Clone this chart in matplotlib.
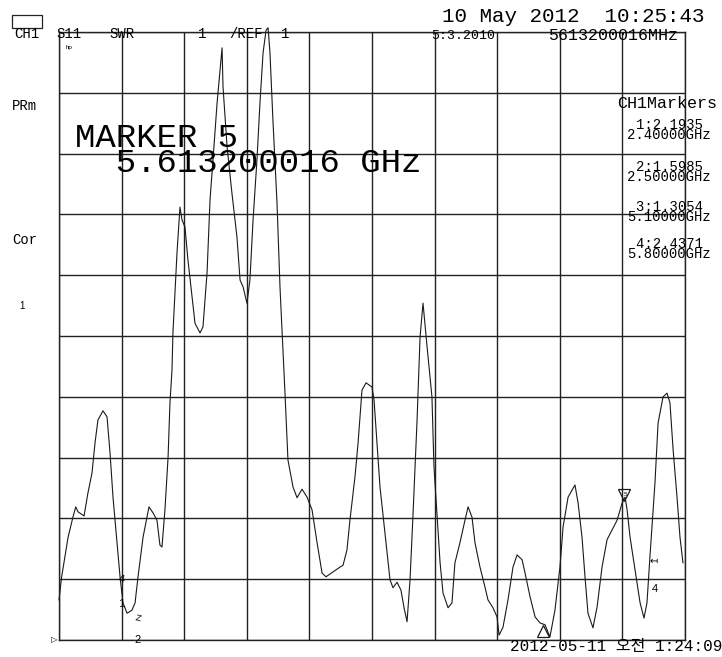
import matplotlib
matplotlib.use("Agg")
import matplotlib.pyplot as plt

# S11 SWR trace (frequency in GHz, SWR)
freq_ghz = [2.000, 2.017, 2.058, 2.089, 2.107, 2.121, 2.160, 2.185, 2.211, 2.230,
            2.249, 2.281, 2.307, 2.326, 2.345, 2.371, 2.390, 2.409, 2.435, 2.466,
            2.486, 2.505, 2.537, 2.575, 2.601, 2.626, 2.645, 2.658, 2.677, 2.697,
            2.709, 2.722, 2.728, 2.754, 2.773, 2.786, 2.805, 2.824, 2.850, 2.869,
            2.901, 2.920, 2.946, 2.965, 2.984, 3.010, 3.029, 3.042, 3.048, 3.074,
            3.105, 3.137, 3.157, 3.176, 3.201, 3.220, 3.240, 3.265, 3.284, 3.304,
            3.323, 3.336, 3.348, 3.367, 3.393, 3.412, 3.431, 3.444, 3.463, 3.495,
            3.521, 3.553, 3.585, 3.617, 3.649, 3.681, 3.706, 3.751, 3.796, 3.815,
            3.840, 3.859, 3.891, 3.911, 3.936, 3.962, 4.000, 4.013, 4.032, 4.051,
            4.083, 4.115, 4.134, 4.160, 4.185, 4.204, 4.224, 4.243, 4.262, 4.288,
            4.307, 4.326, 4.352, 4.383, 4.396, 4.415, 4.435, 4.454, 4.486, 4.511,
            4.530, 4.562, 4.594, 4.614, 4.639, 4.658, 4.690, 4.722, 4.741, 4.773,
            4.799, 4.812, 4.837, 4.869, 4.901, 4.927, 4.959, 4.978, 5.010, 5.042,
            5.074, 5.106, 5.137, 5.169, 5.201, 5.221, 5.253, 5.297, 5.317, 5.342,
            5.361, 5.380, 5.412, 5.438, 5.470, 5.502, 5.534, 5.566, 5.598, 5.617,
            5.630, 5.649, 5.681, 5.713, 5.738, 5.757, 5.776, 5.808, 5.828, 5.860,
            5.885, 5.904, 5.924, 5.949, 5.968, 5.987]
swr = [1.66, 2.04, 2.69, 3.02, 3.19, 3.11, 3.04, 3.42, 3.75, 4.24,
       4.62, 4.77, 4.67, 4.08, 3.35, 2.60, 2.04, 1.61, 1.44, 1.49,
       1.61, 2.04, 2.69, 3.19, 3.09, 2.97, 2.56, 2.53, 3.14, 4.01,
       4.90, 5.44, 6.05, 7.37, 8.12, 7.91, 7.79, 7.25, 6.64, 6.21,
       6.05, 6.15, 7.04, 8.24, 8.90, 9.83, 10.38, 10.74, 10.10, 9.11,
       8.35, 7.63, 6.92, 6.81, 6.54, 6.92, 7.91, 8.90, 9.83, 10.66,
       11.03, 11.07, 10.66, 9.55, 8.19, 6.81, 5.77, 5.06, 3.96, 3.52,
       3.34, 3.48, 3.35, 3.14, 2.60, 2.10, 2.04, 2.12, 2.20, 2.23,
       2.48, 2.97, 3.68, 4.24, 5.11, 5.23, 5.16, 4.95, 4.24, 3.52,
       2.76, 1.99, 1.86, 1.95, 1.82, 1.54, 1.30, 1.99, 3.06, 4.62,
       5.98, 6.54, 5.82, 5.00, 3.85, 3.09, 2.27, 1.77, 1.53, 1.61,
       2.27, 2.60, 2.97, 3.19, 3.02, 2.60, 2.20, 1.87, 1.66, 1.53,
       1.38, 1.08, 1.21, 1.66, 2.20, 2.40, 2.32, 2.10, 1.71, 1.38,
       1.28, 1.25, 1.05, 1.49, 2.20, 2.86, 3.35, 3.55, 3.25, 2.69,
       2.04, 1.44, 1.20, 1.54, 2.20, 2.65, 2.81, 2.97, 3.25, 3.35,
       3.14, 2.69, 2.15, 1.61, 1.36, 1.61, 2.37, 3.58, 4.57, 5.00,
       5.06, 4.90, 4.13, 3.35, 2.69, 2.27]

start_ghz, stop_ghz = 2.0, 6.0
ref_swr, swr_per_div = 1.0, 1.0

marker_values = ["1:2.1935", "2:1.5985", "3:1.3054", "4:2.4371"]
marker_freqs = ["2.40000GHz", "2.50000GHz", "5.10000GHz", "5.80000GHz"]
# triangle glyphs of markers 3 and 5 as they sit on the screen
tri_freq = [5.093, 5.613]
tri_swr = [1.14, 3.38]
tri_shape = ["^", "v"]

W, H = 722, 657
fig = plt.figure(figsize=(W / 100, H / 100), dpi=100)
fig.patch.set_facecolor("white")


def P(x, y):
    # pixel position on the screen -> figure fraction
    return x / W, 1 - y / H


ax = fig.add_axes([59 / W, 17 / H, 626 / W, 608 / H])
ax.set_xlim(start_ghz, stop_ghz)
ax.set_ylim(ref_swr, ref_swr + 10 * swr_per_div)
ax.set_xticks([start_ghz + i * (stop_ghz - start_ghz) / 10 for i in range(11)])
ax.set_yticks([ref_swr + i * swr_per_div for i in range(11)])
ax.tick_params(length=0, labelbottom=False, labelleft=False)
ax.grid(True, color="#222222", linewidth=1.0)
for s in ax.spines.values():
    s.set_color("#222222")
    s.set_linewidth(1.0)
ax.plot(freq_ghz, swr, color="#1a1a1a", linewidth=0.8, clip_on=False)
for f, s, m in zip(tri_freq, tri_swr, tri_shape):
    ax.plot([f], [s], marker=m, markersize=8, markerfacecolor="none",
            markeredgecolor="#1a1a1a", markeredgewidth=0.9, linestyle="none", clip_on=False)

mono = "Liberation Mono"
sans = "Liberation Sans"

# header
fig.patches.append(plt.Rectangle(P(12, 28), 30 / W, 13 / H, transform=fig.transFigure,
                                 fill=False, edgecolor="#222222", linewidth=0.9))
for txt, x in [("CH1", 14), ("S11", 56), ("SWR", 109), ("1", 198), ("/REF", 229), ("1", 281)]:
    fig.text(*P(x, 34), txt, family=mono, fontsize=10, va="center", ha="left")
fig.text(*P(66, 48), "hp", family=sans, fontsize=4.5, va="center", ha="left")
fig.text(*P(442, 17), "10 May 2012  10:25:43", family=mono, fontsize=15, va="center", ha="left")
fig.text(*P(431, 36), "5:3.2010", family=mono, fontsize=9.5, va="center", ha="left")
fig.text(*P(548, 36), "5613200016MHz", family=mono, fontsize=12, va="center", ha="left")

# left labels
fig.text(*P(12, 106), "PRm", family=mono, fontsize=10, va="center", ha="left")
fig.text(*P(12, 240), "Cor", family=mono, fontsize=10, va="center", ha="left")
fig.text(*P(22, 306), "1", family=sans, fontsize=7, va="center", ha="center")

# big marker readout, both lines as one block
fig.text(*P(75, 151), "MARKER 5\n  5.613200016 GHz", family=mono, fontsize=24.5,
         va="center", ha="left", linespacing=0.72)

# marker table: value line and frequency line of each marker as one block
fig.text(*P(717, 103), "CH1Markers", family=mono, fontsize=12, va="center", ha="right")
rows_y = [130, 172, 212, 249]
for val, fr, y in zip(marker_values, marker_freqs, rows_y):
    fig.text(*P(711, y), val + " \n" + fr, family=mono, fontsize=10, va="center",
             ha="right", multialignment="right", linespacing=0.68)

# marker glyphs on the trace
fig.text(*P(121, 580), "4", family=sans, fontsize=8, va="center", ha="center", rotation=-10)
fig.text(*P(121, 604), "1", family=sans, fontsize=8, va="center", ha="center")
fig.text(*P(138, 618), "Z", family=sans, fontsize=6.5, va="center", ha="center", rotation=-15)
fig.text(*P(138, 640), "2", family=sans, fontsize=8, va="center", ha="center")
fig.text(*P(625, 495), "5", family=sans, fontsize=4.5, va="center", ha="center")
fig.text(*P(654, 561), "\u21a4", family="DejaVu Sans", fontsize=7, va="center", ha="center")
fig.text(*P(655, 589), "4", family=sans, fontsize=8, va="center", ha="center")
fig.text(*P(54, 640), "\u25b7", family="DejaVu Sans", fontsize=6, va="center", ha="center")

# timestamp
fig.text(*P(722, 647), "2012-05-11 오전 1:24:09", family=[mono, "Noto Sans CJK KR"],
         fontsize=11.5, va="center", ha="right")

fig.savefig("out.png", dpi=100)
